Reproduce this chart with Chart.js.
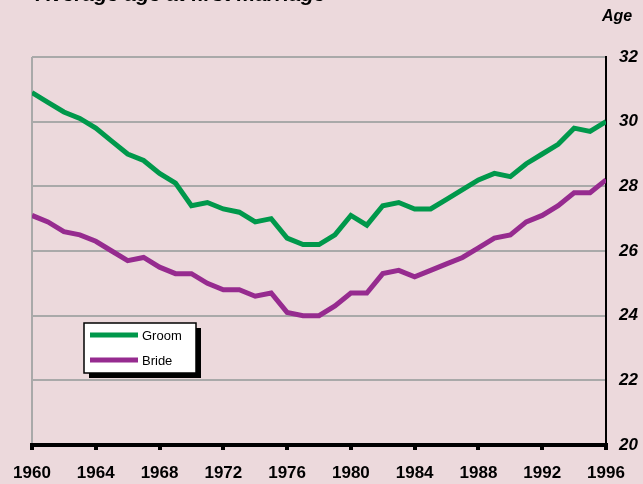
<!DOCTYPE html>
<html>
<head>
<meta charset="utf-8">
<script src="https://cdn.jsdelivr.net/npm/chart.js@4"></script>
<style>
  html, body { margin: 0; padding: 0; background: #ecd9dc; }
  canvas { display: block; }
</style>
</head>
<body>
<canvas id="marriageChart" width="643" height="484"></canvas>
<script>
// ==========================================
// DATA
// ==========================================
const years = [1960, 1961, 1962, 1963, 1964, 1965, 1966, 1967, 1968, 1969,
               1970, 1971, 1972, 1973, 1974, 1975, 1976, 1977, 1978, 1979,
               1980, 1981, 1982, 1983, 1984, 1985, 1986, 1987, 1988, 1989,
               1990, 1991, 1992, 1993, 1994, 1995, 1996];
const groomAge = [30.9, 30.6, 30.3, 30.1, 29.8, 29.4, 29.0, 28.8, 28.4, 28.1,
                  27.4, 27.5, 27.3, 27.2, 26.9, 27.0, 26.4, 26.2, 26.2, 26.5,
                  27.1, 26.8, 27.4, 27.5, 27.3, 27.3, 27.6, 27.9, 28.2, 28.4,
                  28.3, 28.7, 29.0, 29.3, 29.8, 29.7, 30.0];
const brideAge = [27.1, 26.9, 26.6, 26.5, 26.3, 26.0, 25.7, 25.8, 25.5, 25.3,
                  25.3, 25.0, 24.8, 24.8, 24.6, 24.7, 24.1, 24.0, 24.0, 24.3,
                  24.7, 24.7, 25.3, 25.4, 25.2, 25.4, 25.6, 25.8, 26.1, 26.4,
                  26.5, 26.9, 27.1, 27.4, 27.8, 27.8, 28.2];
const seriesNames = ['Groom', 'Bride'];
const chartTitle = 'Average age at first marriage';
const axisTitle = 'Age';

const GREEN = '#00984b';
const PURPLE = '#962b8f';
const BG = '#ecd9dc';
const FONT = '"Liberation Sans", Arial, sans-serif';

// ==========================================
// PLUGINS (background, frame, title, legend box)
// ==========================================
const decorPlugin = {
    id: 'decor',
    beforeDraw(chart) {
        const { ctx, chartArea } = chart;
        ctx.save();
        ctx.fillStyle = BG;
        ctx.fillRect(0, 0, chart.width, chart.height);
        // grey left frame line
        ctx.strokeStyle = '#a9a9a9';
        ctx.lineWidth = 2;
        ctx.beginPath();
        ctx.moveTo(chartArea.left, chartArea.top);
        ctx.lineTo(chartArea.left, chartArea.bottom);
        ctx.stroke();
        ctx.restore();
    },
    afterDraw(chart) {
        const { ctx } = chart;
        ctx.save();
        ctx.fillStyle = '#000';
        ctx.font = `bold italic 21px ${FONT}`;
        ctx.textBaseline = 'alphabetic';
        ctx.textAlign = 'left';
        ctx.fillText(chartTitle, 36, 1);

        ctx.font = `bold italic 16px ${FONT}`;
        ctx.textAlign = 'center';
        ctx.textBaseline = 'middle';
        ctx.fillText(axisTitle, 617, 17);

        // legend box with drop shadow
        const bx = 84, by = 323, bw = 112, bh = 50;
        ctx.fillStyle = '#000';
        ctx.fillRect(bx + 5, by + 5, bw, bh);
        ctx.fillStyle = '#fff';
        ctx.fillRect(bx, by, bw, bh);
        ctx.strokeStyle = '#000';
        ctx.lineWidth = 1.5;
        ctx.strokeRect(bx, by, bw, bh);

        ctx.font = `13px ${FONT}`;
        ctx.textAlign = 'left';
        ctx.textBaseline = 'middle';
        chart.data.datasets.forEach((ds, i) => {
            const ly = by + 12 + i * 25;
            ctx.strokeStyle = ds.borderColor;
            ctx.lineWidth = 5;
            ctx.beginPath();
            ctx.moveTo(bx + 6, ly);
            ctx.lineTo(bx + 54, ly);
            ctx.stroke();
            ctx.fillStyle = '#000';
            ctx.fillText(ds.label, bx + 58, ly + 1);
        });
        ctx.restore();
    }
};

// ==========================================
// CHART
// ==========================================
const ctx = document.getElementById('marriageChart').getContext('2d');

new Chart(ctx, {
    type: 'line',
    data: {
        datasets: [
            {
                label: seriesNames[0],
                data: years.map((y, i) => ({ x: y, y: groomAge[i] })),
                borderColor: GREEN,
                borderWidth: 5,
                pointRadius: 0,
                tension: 0,
                fill: false
            },
            {
                label: seriesNames[1],
                data: years.map((y, i) => ({ x: y, y: brideAge[i] })),
                borderColor: PURPLE,
                borderWidth: 5,
                pointRadius: 0,
                tension: 0,
                fill: false
            }
        ]
    },
    options: {
        responsive: false,
        animation: false,
        layout: { padding: { top: 57, left: 32, right: 0, bottom: 0 } },
        plugins: {
            legend: { display: false },
            title: { display: false },
            tooltip: { enabled: false }
        },
        scales: {
            x: {
                type: 'linear',
                min: 1960,
                max: 1996,
                afterFit: (scale) => { scale.height = 39; },
                afterBuildTicks: (scale) => {
                    scale.ticks = [];
                    for (let y = 1960; y <= 1996; y += 4) scale.ticks.push({ value: y });
                },
                ticks: {
                    callback: (v) => String(v),
                    color: '#000',
                    font: { family: FONT, size: 17, weight: 'bold' },
                    padding: 13,
                    maxRotation: 0,
                    autoSkip: false
                },
                grid: {
                    drawOnChartArea: false,
                    drawTicks: true,
                    tickLength: 5,
                    color: '#000',
                    lineWidth: 4
                },
                border: { display: true, color: '#000', width: 4 }
            },
            y: {
                position: 'right',
                min: 20,
                max: 32,
                afterFit: (scale) => { scale.width = 37; },
                ticks: {
                    stepSize: 2,
                    color: '#000',
                    font: { family: FONT, size: 17, weight: 'bold', style: 'italic' },
                    padding: 13
                },
                grid: {
                    color: '#a9a9a9',
                    lineWidth: 2,
                    drawTicks: false
                },
                border: { display: true, color: '#000', width: 2 }
            }
        }
    },
    plugins: [decorPlugin]
});
</script>
</body>
</html>
